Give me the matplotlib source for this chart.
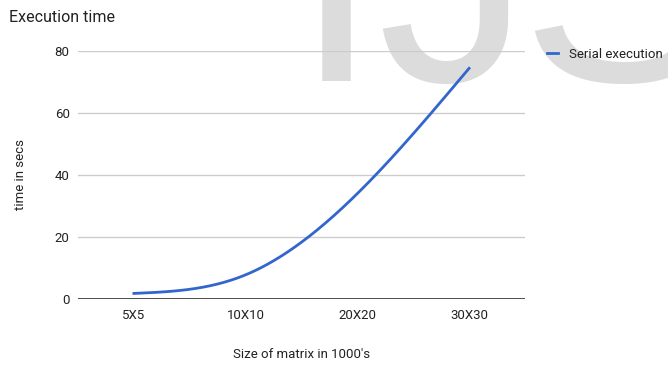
import numpy as np
import matplotlib
matplotlib.use('Agg')
import matplotlib.pyplot as plt

plt.rcParams['font.family'] = ['Roboto', 'DejaVu Sans']

sizes = ['5X5', '10X10', '20X20', '30X30']
serial_times = [1.8, 7.8, 34.0, 74.4]

LINE_BLUE = '#3366cc'
TEXT = '#222222'


def natural_spline(ys, n=200):
    # natural cubic spline on unit spacing (second derivative zero at the ends)
    ys = np.asarray(ys, float)
    k = len(ys)
    A = np.zeros((k, k))
    r = np.zeros(k)
    A[0, 0] = A[-1, -1] = 1
    for i in range(1, k - 1):
        A[i, i - 1:i + 2] = [1, 4, 1]
        r[i] = 6 * (ys[i - 1] - 2 * ys[i] + ys[i + 1])
    M = np.linalg.solve(A, r)
    t = np.linspace(0, 1, n)
    out_x, out_y = [], []
    for i in range(k - 1):
        y = ((1 - t) * ys[i] + t * ys[i + 1]
             + ((1 - t)**3 - (1 - t)) * M[i] / 6 + (t**3 - t) * M[i + 1] / 6)
        out_x.append(i + t)
        out_y.append(y)
    return np.concatenate(out_x), np.concatenate(out_y)


fig = plt.figure(figsize=(6.68, 3.65), dpi=100)

# faint watermark lettering behind everything
for letter, lx in [('I', 0.440), ('J', 0.565), ('S', 0.778)]:
    fig.text(lx, 0.778, letter, fontsize=220, color='#dcdcdc', ha='left',
             va='baseline', zorder=-1, family='Liberation Sans')

ax = fig.add_axes([0.1168, 0.1808, 0.669, 0.6795])
ax.patch.set_alpha(0)

x = np.arange(len(sizes))
cx, cy = natural_spline(serial_times)
ax.plot(cx, cy, color=LINE_BLUE, lw=2, label='Serial execution', zorder=3)

ax.set_xlim(-0.5, 3.5)
ax.set_ylim(0, 80)
ax.set_yticks([0, 20, 40, 60, 80])
ax.set_xticks(x)
ax.set_xticklabels(sizes)
ax.grid(axis='y', color='#cccccc', lw=1)
ax.axhline(0, color='#333333', lw=1.2, zorder=2)
for s in ax.spines.values():
    s.set_visible(False)
ax.tick_params(length=0, labelsize=9.5, colors=TEXT)
ax.tick_params(axis='y', pad=6)
ax.tick_params(axis='x', pad=7)

ax.set_ylabel('time in secs', fontsize=9.5, color=TEXT, labelpad=20)
ax.set_xlabel("Size of matrix in 1000's", fontsize=9.5, color=TEXT, labelpad=19)
fig.text(0.013, 0.952, 'Execution time', fontsize=11.5, color=TEXT, va='center')

ax.legend(loc='upper left', bbox_to_anchor=(1.022, 1.06), frameon=False, fontsize=9.5,
          handlelength=0.9, handletextpad=0.8, labelcolor=TEXT)

fig.savefig('out.png', dpi=100)
